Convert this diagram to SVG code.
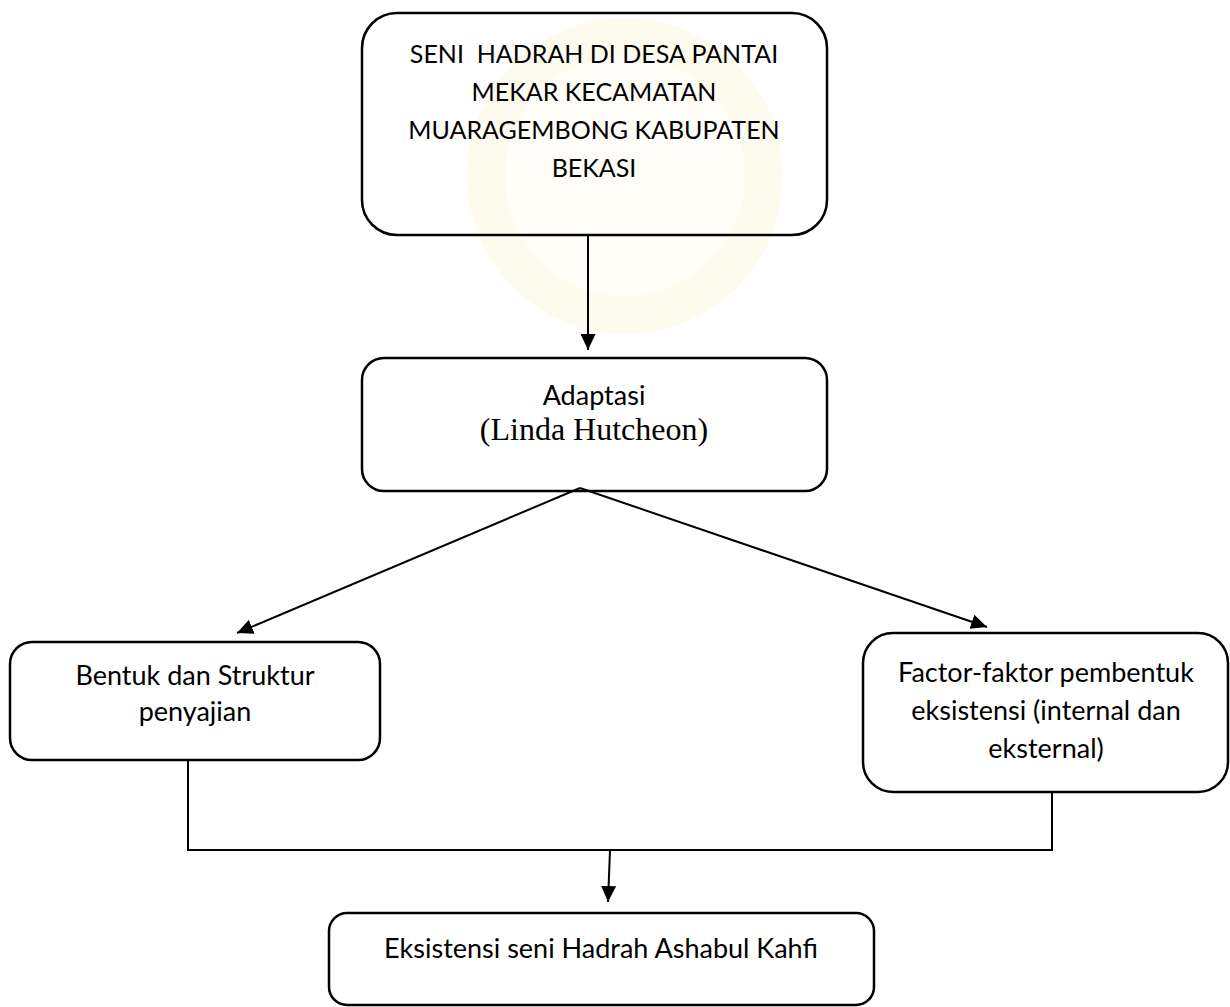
<svg xmlns="http://www.w3.org/2000/svg" width="1230" height="1007" viewBox="0 0 1230 1007">
  <style>
    .box { fill: none; stroke: #000; stroke-width: 2.5; }
    .conn { fill: none; stroke: #000; stroke-width: 2; }
    .t { font-family: Lato, "Open Sans", "Liberation Sans", sans-serif; font-size: 27px; fill: #000; text-anchor: middle; white-space: pre; }
    .tc { font-size: 25px; }
    .tr { font-family: "Liberation Serif", "Times New Roman", serif; font-size: 32px; fill: #000; text-anchor: middle; }
  </style>
  <defs>
    <marker id="arrow" markerUnits="userSpaceOnUse" markerWidth="17" markerHeight="15" refX="16" refY="7.5" orient="auto">
      <path d="M0,0 L16,7.5 L0,15 Z" fill="#000"/>
    </marker>
  </defs>
  <rect x="0" y="0" width="1230" height="1007" fill="#fff"/>
  <g id="watermark">
    <circle cx="625" cy="176" r="158" fill="#fdfaee"/>
    <circle cx="625" cy="176" r="120" fill="#fefdf7"/>
  </g>
  <g id="connectors">
    <line class="conn" x1="588" y1="235" x2="588" y2="350" marker-end="url(#arrow)"/>
    <line class="conn" x1="580" y1="488" x2="237" y2="633" marker-end="url(#arrow)"/>
    <line class="conn" x1="580" y1="488" x2="987" y2="627" marker-end="url(#arrow)"/>
    <polyline class="conn" points="188,760 188,850 1052,850 1052,792"/>
    <line class="conn" x1="610" y1="850" x2="608" y2="902" marker-end="url(#arrow)"/>
  </g>
  <g id="node-seni">
    <rect class="box" x="362" y="13" width="465" height="222" rx="35"/>
    <text class="t tc" x="594" y="63">SENI  HADRAH DI DESA PANTAI</text>
    <text class="t tc" x="594" y="101">MEKAR KECAMATAN</text>
    <text class="t tc" x="594" y="139">MUARAGEMBONG KABUPATEN</text>
    <text class="t tc" x="594" y="177">BEKASI</text>
  </g>
  <g id="node-adaptasi">
    <rect class="box" x="362" y="358" width="465" height="133" rx="22"/>
    <text class="t" x="594" y="405">Adaptasi</text>
    <text class="tr" x="594" y="440">(Linda Hutcheon)</text>
  </g>
  <g id="node-bentuk">
    <rect class="box" x="10" y="642" width="370" height="118" rx="22"/>
    <text class="t" x="195" y="685">Bentuk dan Struktur</text>
    <text class="t" x="195" y="721">penyajian</text>
  </g>
  <g id="node-factor">
    <rect class="box" x="863" y="633" width="365" height="159" rx="30"/>
    <text class="t" x="1046" y="682">Factor-faktor pembentuk</text>
    <text class="t" x="1046" y="720">eksistensi (internal dan</text>
    <text class="t" x="1046" y="758">eksternal)</text>
  </g>
  <g id="node-eksistensi">
    <rect class="box" x="329" y="913" width="545" height="92" rx="18"/>
    <text class="t" x="601" y="958">Eksistensi seni Hadrah Ashabul Kahfi</text>
  </g>
</svg>
